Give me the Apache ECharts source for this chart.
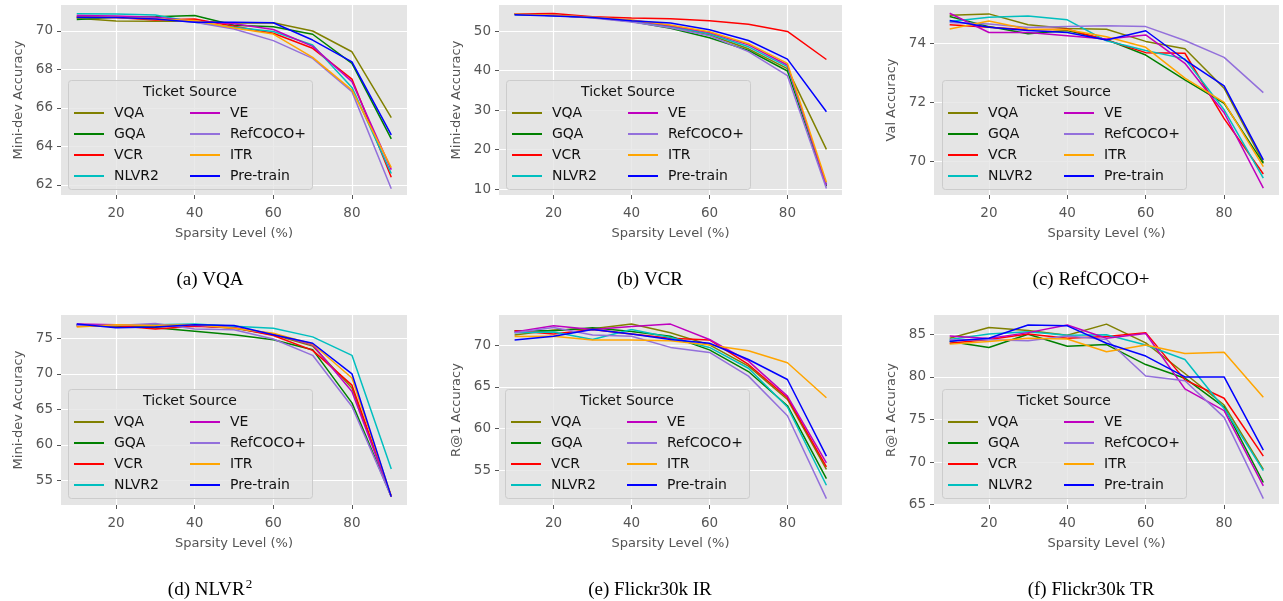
<!DOCTYPE html>
<html>
<head>
<meta charset="utf-8">
<script src="https://cdn.jsdelivr.net/npm/echarts@6/dist/echarts.min.js"></script>
<style>
html,body{margin:0;padding:0;background:#fff;}
#chart{width:1283px;height:601px;}
</style>
</head>
<body>
<div id="chart"></div>
<script>
// ---------- data ----------
const sparsity = [10, 20, 30, 40, 50, 60, 70, 80, 90];
const sources = ['VQA', 'GQA', 'VCR', 'NLVR2', 'VE', 'RefCOCO+', 'ITR', 'Pre-train'];
const sourceColors = ['#808000', '#008000', '#FF0000', '#00BFBF', '#BF00BF', '#9370DB', '#FFA500', '#0000FF'];

// rows follow the order of `sources`
const vqaMiniDev = [
  [70.66, 70.52, 70.50, 70.50, 70.42, 70.43, 70.00, 68.92, 65.50],
  [70.60, 70.72, 70.74, 70.80, 70.30, 70.22, 69.83, 68.32, 64.40],
  [70.75, 70.70, 70.57, 70.62, 70.25, 69.88, 69.10, 67.50, 62.40],
  [70.90, 70.88, 70.83, 70.45, 70.20, 69.97, 69.27, 67.07, 62.60],
  [70.81, 70.78, 70.72, 70.50, 70.38, 70.08, 69.20, 67.37, 62.80],
  [70.70, 70.70, 70.65, 70.45, 70.10, 69.50, 68.58, 66.85, 61.80],
  [70.72, 70.70, 70.62, 70.55, 70.15, 69.84, 68.63, 66.93, 62.90],
  [70.71, 70.70, 70.62, 70.45, 70.45, 70.43, 69.53, 68.40, 64.60]
];
const vcrMiniDev = [
  [54.3, 54.0, 53.5, 52.6, 51.0, 49.0, 45.5, 40.5, 20.1],
  [54.2, 53.9, 53.4, 52.4, 50.7, 48.3, 45.1, 39.9, 10.8],
  [54.3, 54.4, 53.6, 53.3, 53.1, 52.6, 51.7, 49.9, 42.8],
  [54.2, 53.9, 53.4, 52.6, 51.1, 49.3, 46.0, 41.0, 11.2],
  [54.3, 54.0, 53.5, 52.7, 51.3, 49.6, 46.5, 41.4, 11.0],
  [54.2, 53.9, 53.3, 52.3, 50.8, 48.8, 44.8, 38.7, 10.2],
  [54.3, 54.0, 53.5, 52.8, 51.5, 49.8, 46.8, 41.8, 11.8],
  [54.1, 53.8, 53.4, 52.6, 52.0, 50.3, 47.6, 42.9, 29.6]
];
const refcocoVal = [
  [74.94, 74.99, 74.62, 74.50, 74.47, 74.06, 73.81, 72.48, 69.97],
  [74.90, 74.56, 74.32, 74.43, 74.12, 73.60, 72.76, 71.97, 69.94],
  [74.62, 74.54, 74.45, 74.47, 74.11, 73.68, 73.66, 71.45, 69.58],
  [74.73, 74.88, 74.92, 74.79, 74.08, 73.75, 73.47, 71.75, 69.44],
  [75.01, 74.36, 74.36, 74.25, 74.14, 74.28, 73.32, 71.65, 69.10],
  [74.70, 74.65, 74.53, 74.56, 74.59, 74.56, 74.09, 73.52, 72.33],
  [74.48, 74.75, 74.47, 74.45, 74.22, 73.86, 72.82, 72.00, 69.83],
  [74.77, 74.54, 74.43, 74.36, 74.11, 74.42, 73.44, 72.56, 70.06]
];
const nlvr2MiniDev = [
  [76.8, 76.8, 76.7, 76.8, 76.4, 75.5, 73.9, 68.0, 52.7],
  [76.9, 76.7, 76.5, 76.0, 75.5, 74.8, 73.4, 65.9, 52.7],
  [76.7, 76.8, 76.3, 76.7, 76.5, 75.4, 73.3, 68.4, 52.7],
  [76.9, 76.9, 76.9, 77.0, 76.7, 76.4, 75.2, 72.6, 56.6],
  [77.0, 76.9, 76.8, 76.8, 76.5, 75.6, 74.1, 67.5, 52.7],
  [76.8, 76.8, 77.1, 76.3, 76.2, 74.9, 72.6, 65.4, 52.7],
  [76.6, 76.9, 76.8, 76.9, 76.4, 75.7, 74.2, 69.4, 52.8],
  [77.0, 76.5, 76.6, 76.9, 76.8, 75.5, 74.3, 70.0, 52.7]
];
const flickrIR = [
  [71.25, 71.85, 72.00, 72.55, 71.50, 70.05, 67.50, 63.50, 55.1],
  [71.75, 71.75, 72.10, 71.65, 71.10, 69.45, 66.85, 62.75, 54.0],
  [71.75, 71.35, 71.90, 71.35, 70.85, 70.65, 67.70, 63.70, 55.4],
  [71.50, 71.60, 70.70, 71.90, 70.95, 69.75, 67.25, 62.60, 53.2],
  [71.60, 72.35, 71.90, 72.25, 72.55, 70.70, 68.10, 63.90, 55.9],
  [71.50, 72.15, 71.25, 71.10, 69.75, 69.15, 66.30, 61.55, 51.6],
  [71.05, 71.10, 70.65, 70.65, 70.55, 70.05, 69.35, 67.90, 63.7],
  [70.65, 71.10, 71.90, 71.35, 70.70, 70.25, 68.30, 65.90, 56.7]
];
const flickrTR = [
  [84.55, 85.80, 85.45, 84.90, 86.20, 84.00, 80.40, 76.70, 69.15],
  [84.15, 83.45, 85.00, 83.60, 83.80, 81.45, 79.85, 76.45, 67.60],
  [83.95, 84.40, 85.05, 84.55, 84.75, 85.20, 79.65, 77.50, 70.70],
  [84.40, 85.05, 85.30, 84.90, 84.95, 83.75, 82.05, 76.30, 69.00],
  [84.80, 84.50, 85.20, 86.10, 84.55, 85.10, 78.60, 76.05, 67.20],
  [84.35, 84.35, 84.25, 84.80, 84.40, 80.10, 79.55, 75.25, 65.70],
  [83.85, 84.15, 84.55, 84.45, 82.95, 83.75, 82.75, 82.90, 77.60],
  [84.20, 84.55, 86.10, 86.00, 83.95, 82.45, 80.00, 80.00, 71.40]
];

const xTicks = [20, 40, 60, 80];
const yTicksA = [62, 64, 66, 68, 70];
const yTicksB = [10, 20, 30, 40, 50];
const yTicksC = [70, 72, 74];
const yTicksD = [55, 60, 65, 70, 75];
const yTicksE = [55, 60, 65, 70];
const yTicksF = [65, 70, 75, 80, 85];

const xAxisTitle = 'Sparsity Level (%)';
const yAxisTitles = ['Mini-dev Accuracy', 'Mini-dev Accuracy', 'Val Accuracy', 'Mini-dev Accuracy', 'R@1 Accuracy', 'R@1 Accuracy'];
const legendTitle = 'Ticket Source';
const captions = ['(a) VQA', '(b) VCR', '(c) RefCOCO+', '{b|(d) NLVR}{s|2}', '(e) Flickr30k IR', '(f) Flickr30k TR'];

// ---------- layout ----------
const panels = [vqaMiniDev, vcrMiniDev, refcocoVal, nlvr2MiniDev, flickrIR, flickrTR];
const yTickSets = [yTicksA, yTicksB, yTicksC, yTicksD, yTicksE, yTicksF];
const yRanges = [[61.48, 71.35], [8.56, 56.57], [68.87, 75.29], [51.52, 78.28], [50.83, 73.64], [64.96, 87.27]];
const gridBoxes = [
  {left: 61, top: 5, width: 346, height: 190},
  {left: 499, top: 5, width: 343, height: 190},
  {left: 934, top: 5, width: 345, height: 190},
  {left: 61, top: 315, width: 346, height: 190},
  {left: 499, top: 315, width: 343, height: 190},
  {left: 934, top: 315, width: 345, height: 190}
];
const legendPos = [[68, 80], [506, 80], [942, 80], [68, 389], [505, 389], [942, 389]];
const captionPos = [[210, 280], [650, 280], [1091, 280], [210, 590], [650, 590], [1091, 590]];

const FONT = 'DejaVu Sans';
const grids = [], xAxes = [], yAxes = [], series = [], legends = [], graphics = [];

gridBoxes.forEach((g, i) => {
  grids.push(Object.assign({show: true, backgroundColor: '#E5E5E5', borderWidth: 0, containLabel: false}, g));
  xAxes.push({
    type: 'value', gridIndex: i, min: 6, max: 94,
    name: xAxisTitle, nameLocation: 'middle', nameGap: 32,
    nameTextStyle: {fontFamily: FONT, fontSize: 13, color: '#555555'},
    axisLine: {show: false},
    axisTick: {show: true, length: 4, lineStyle: {color: '#555555', width: 1}, customValues: xTicks},
    axisLabel: {fontFamily: FONT, fontSize: 13.5, color: '#555555', margin: 11, customValues: xTicks},
    splitLine: {show: true, lineStyle: {color: '#FFFFFF', width: 1.2}}
  });
  yAxes.push({
    type: 'value', gridIndex: i, min: yRanges[i][0], max: yRanges[i][1],
    name: yAxisTitles[i], nameLocation: 'middle', nameGap: 36,
    nameTextStyle: {fontFamily: FONT, fontSize: 13, color: '#555555'},
    axisLine: {show: false},
    axisTick: {show: true, length: 4, lineStyle: {color: '#555555', width: 1}, customValues: yTickSets[i]},
    axisLabel: {fontFamily: FONT, fontSize: 13.5, color: '#555555', margin: 8, customValues: yTickSets[i]},
    splitLine: {show: true, lineStyle: {color: '#FFFFFF', width: 1.2}}
  });
  panels[i].forEach((vals, s) => {
    series.push({
      type: 'line', name: sources[s], xAxisIndex: i, yAxisIndex: i,
      data: sparsity.map((x, k) => [x, vals[k]]),
      symbol: 'none', showSymbol: false, clip: true, animation: false,
      lineStyle: {width: 1.5, color: sourceColors[s]},
      itemStyle: {color: sourceColors[s]}
    });
  });
  const lx = legendPos[i][0], ly = legendPos[i][1];
  // legend frame + title
  graphics.push({
    type: 'rect', z: 3, shape: {x: lx + 0.5, y: ly + 0.5, width: 244, height: 109, r: 3},
    style: {fill: 'rgba(229,229,229,0.8)', stroke: '#CCCCCC', lineWidth: 1}
  });
  graphics.push({
    type: 'text', z: 6, x: lx + 122, y: ly + 12,
    style: {text: legendTitle, font: '14px "DejaVu Sans"', fill: '#111111', align: 'center', verticalAlign: 'middle'}
  });
  // two legend columns
  [[0, 4, lx + 5], [4, 8, lx + 121]].forEach(([a, b, left]) => {
    legends.push({
      left: left, top: ly + 26, orient: 'vertical',
      itemWidth: 30, itemHeight: 14, itemGap: 7, padding: 0,
      textStyle: {fontFamily: FONT, fontSize: 14, color: '#111111', padding: [0, 0, 0, 5]},
      itemStyle: {color: 'rgba(0,0,0,0)', borderWidth: 0, opacity: 0},
      lineStyle: {width: 2},
      selectedMode: false,
      data: sources.slice(a, b)
    });
  });
  graphics.push({
    type: 'text', z: 100, x: captionPos[i][0], y: captionPos[i][1],
    style: {
      text: captions[i], fill: '#000000', align: 'center', verticalAlign: 'middle',
      font: '19px "Liberation Serif"',
      rich: {
        b: {font: '19px "Liberation Serif"', fill: '#000000', lineHeight: 24},
        s: {font: '13px "Liberation Serif"', fill: '#000000', verticalAlign: 'top', lineHeight: 24, padding: [0, 0, 10, 1]}
      }
    }
  });
});

const chart = echarts.init(document.getElementById('chart'), null, {renderer: 'canvas'});
chart.setOption({
  animation: false,
  backgroundColor: '#FFFFFF',
  grid: grids, xAxis: xAxes, yAxis: yAxes, series: series, legend: legends, graphic: graphics
});
</script>
</body>
</html>
